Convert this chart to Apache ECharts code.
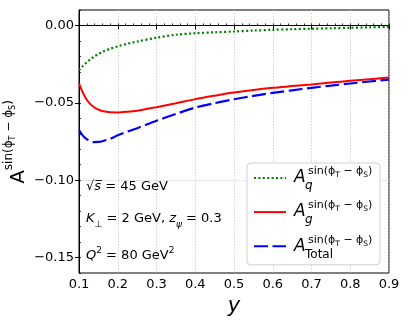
<!DOCTYPE html>
<html>
<head>
<meta charset="utf-8">
<script src="https://cdn.jsdelivr.net/npm/echarts@6/dist/echarts.min.js"></script>
<style>html,body{margin:0;padding:0;background:#fff}#c{width:409px;height:327px}</style>
</head>
<body>
<div id="c"></div>
<script>
var yValues = [0.1, 0.11, 0.12, 0.13, 0.14, 0.15, 0.16, 0.18, 0.2, 0.225, 0.25, 0.3, 0.35, 0.4, 0.45, 0.5, 0.55, 0.6, 0.65, 0.7, 0.75, 0.8, 0.85, 0.9];
var quark = [-0.0290, -0.0262, -0.0238, -0.0218, -0.0200, -0.0185, -0.0171, -0.0151, -0.0135, -0.0118, -0.0104, -0.0079, -0.0060, -0.0050, -0.0044, -0.0039, -0.0033, -0.0028, -0.0024, -0.0021, -0.0018, -0.0015, -0.0012, -0.0009];
var gluon = [-0.0375, -0.0435, -0.0480, -0.0510, -0.0530, -0.0544, -0.0553, -0.0561, -0.0562, -0.0558, -0.0551, -0.0528, -0.0503, -0.0476, -0.0454, -0.0434, -0.0417, -0.0403, -0.0392, -0.0381, -0.0369, -0.0358, -0.0347, -0.0337];
var total = [-0.0676, -0.0712, -0.0735, -0.0748, -0.0754, -0.0753, -0.0748, -0.0733, -0.0710, -0.0686, -0.0664, -0.0616, -0.0572, -0.0531, -0.0502, -0.0477, -0.0455, -0.0436, -0.0419, -0.0403, -0.0389, -0.0375, -0.0362, -0.0350];
var xTicks = [0.1, 0.2, 0.3, 0.4, 0.5, 0.6, 0.7, 0.8, 0.9];
var yTicks = [-0.15, -0.10, -0.05, 0.00];
var seriesNames = ['q', 'g', 'Total'];

function pairs(arr) { return yValues.map(function (x, i) { return [x, arr[i]]; }); }
var FONT = 'DejaVu Sans';
var chart = echarts.init(document.getElementById('c'), null, {renderer: 'canvas'});

var supRich = {
  s: {fontFamily: FONT, fontSize: 11, verticalAlign: 'top', color: '#000'},
  t: {fontFamily: FONT, fontSize: 7.5, verticalAlign: 'top', padding: [5, 0, 0, 0], color: '#000'}
};
var supText = '{s|sin(ϕ}{t|T}{s| − ϕ}{t|S}{s|)}';
var legendRowsY = [178, 212, 247];
var subs = [{t: 'q', it: true}, {t: 'g', it: true}, {t: 'Total', it: false}];
var graphics = [];
legendRowsY.forEach(function (yc, i) {
  graphics.push({type: 'text', z: 100, x: 294, y: yc, style: {text: 'A', fontFamily: FONT, fontStyle: 'italic', fontSize: 17, fill: '#000', verticalAlign: 'middle'}});
  graphics.push({type: 'text', z: 100, x: 308, y: yc - 12, style: {text: supText, rich: supRich, fill: '#000', verticalAlign: 'top'}});
  graphics.push({type: 'text', z: 100, x: 305, y: yc + 8, style: {text: subs[i].t, fontFamily: FONT, fontStyle: subs[i].it ? 'italic' : 'normal', fontSize: 12, fill: '#000', verticalAlign: 'middle'}});
});
var annRich = {
  n: {fontFamily: FONT, fontSize: 13, lineHeight: 20, color: '#000'},
  i: {fontFamily: FONT, fontStyle: 'italic', fontSize: 13, lineHeight: 20, color: '#000'},
  sb: {fontFamily: FONT, fontSize: 9, lineHeight: 10, verticalAlign: 'bottom', color: '#000'},
  sbi: {fontFamily: FONT, fontStyle: 'italic', fontSize: 9, lineHeight: 10, verticalAlign: 'bottom', color: '#000'},
  sp: {fontFamily: FONT, fontSize: 9, lineHeight: 11, verticalAlign: 'top', color: '#000'}
};
graphics.push({type: 'text', z: 100, x: 86, y: 187, style: {text: '{n|√}{i|s\u0305}{n| = 45 GeV}', rich: annRich, verticalAlign: 'middle'}});
graphics.push({type: 'text', z: 100, x: 86, y: 219, style: {text: '{i|K}{sb|⊥}{n| = 2 GeV, }{i|z}{sbi|ψ}{n| = 0.3}', rich: annRich, verticalAlign: 'middle'}});
graphics.push({type: 'text', z: 100, x: 86, y: 256, style: {text: '{i|Q}{sp|2}{n| = 80 GeV}{sp|2}', rich: annRich, verticalAlign: 'middle'}});
graphics.push({type: 'text', z: 100, x: 16, y: 142, rotation: Math.PI / 2, style: {
  text: '{a|A}{s|sin(ϕ}{t|T}{s| − ϕ}{t|S}{s|)}', align: 'center', verticalAlign: 'middle',
  rich: {
    a: {fontFamily: FONT, fontSize: 20, lineHeight: 26, verticalAlign: 'bottom', color: '#000'},
    s: {fontFamily: FONT, fontSize: 12, verticalAlign: 'top', color: '#000'},
    t: {fontFamily: FONT, fontSize: 8, verticalAlign: 'top', padding: [5.5, 0, 0, 0], color: '#000'}
  }
}});

var option = {
  animation: false,
  backgroundColor: '#fff',
  grid: {left: 79, right: 20, top: 10, bottom: 54, show: true, borderColor: '#000', borderWidth: 1, backgroundColor: 'transparent'},
  xAxis: [{
    type: 'value', min: 0.1, max: 0.9, interval: 0.1,
    name: 'y', nameLocation: 'middle', nameGap: 22,
    nameTextStyle: {fontFamily: FONT, fontStyle: 'italic', fontSize: 21, color: '#000'},
    axisLine: {lineStyle: {color: '#000', width: 1}},
    axisTick: {show: true, inside: false, length: 4, lineStyle: {color: '#000'}},
    axisLabel: {fontFamily: FONT, fontSize: 13, color: '#000', margin: 5, formatter: function (v) { return v.toFixed(1); }},
    splitLine: {show: true, lineStyle: {color: '#c8c8c8', width: 0.8, type: [1.5, 1.5]}}
  }, {
    type: 'value', min: 0.1, max: 0.9, interval: 0.02, position: 'bottom',
    axisLine: {show: false}, axisLabel: {show: false}, splitLine: {show: false},
    axisTick: {show: true, inside: true, length: 2, lineStyle: {color: '#000', width: 0.8}}
  }],
  yAxis: [{
    type: 'value', min: -0.16, max: 0.01, interval: 0.01,
    axisLine: {show: true, lineStyle: {color: '#000', width: 1}},
    axisTick: {show: true, inside: false, length: 4, customValues: yTicks, lineStyle: {color: '#000'}},
    axisLabel: {fontFamily: FONT, fontSize: 13, color: '#000', margin: 5, customValues: yTicks,
      formatter: function (v) { var s = Math.abs(v).toFixed(2); return (v < -1e-9 ? '\u2212' : '') + s; }},
    splitLine: {show: true, lineStyle: {color: ['rgba(0,0,0,0)', '#c8c8c8', 'rgba(0,0,0,0)', 'rgba(0,0,0,0)', 'rgba(0,0,0,0)'], width: 0.8, type: [1.5, 1.5]}}
  }, {
    type: 'value', min: -0.16, max: 0.01, interval: 0.01, position: 'left',
    axisLine: {show: false}, axisLabel: {show: false}, splitLine: {show: false},
    axisTick: {show: true, inside: true, length: 2, lineStyle: {color: '#000', width: 0.8}}
  }],
  legend: {
    orient: 'vertical', left: 247, top: 163,
    itemWidth: 32, itemHeight: 14, itemGap: 21.5,
    padding: [8, 93, 13, 6],
    backgroundColor: '#fff', borderColor: '#d0d0d0', borderWidth: 1, borderRadius: 4,
    itemStyle: {color: 'rgba(0,0,0,0)', borderWidth: 0, opacity: 0},
    formatter: function () { return ''; },
    data: seriesNames
  },
  graphic: graphics,
  series: [
    {name: seriesNames[0], type: 'line', data: pairs(quark), showSymbol: false, symbol: 'none', smooth: 0.3,
      lineStyle: {color: '#008000', width: 2.2, type: [2, 2.4]}, itemStyle: {color: '#008000'}},
    {name: seriesNames[1], type: 'line', data: pairs(gluon), showSymbol: false, symbol: 'none', smooth: 0.3,
      lineStyle: {color: '#ff0000', width: 2}, itemStyle: {color: '#ff0000'}},
    {name: seriesNames[2], type: 'line', data: pairs(total), showSymbol: false, symbol: 'none', smooth: 0.3,
      lineStyle: {color: '#0000ff', width: 2.2, type: [14, 4.5]}, itemStyle: {color: '#0000ff'}}
  ]
};
chart.setOption(option);
</script>
</body>
</html>
